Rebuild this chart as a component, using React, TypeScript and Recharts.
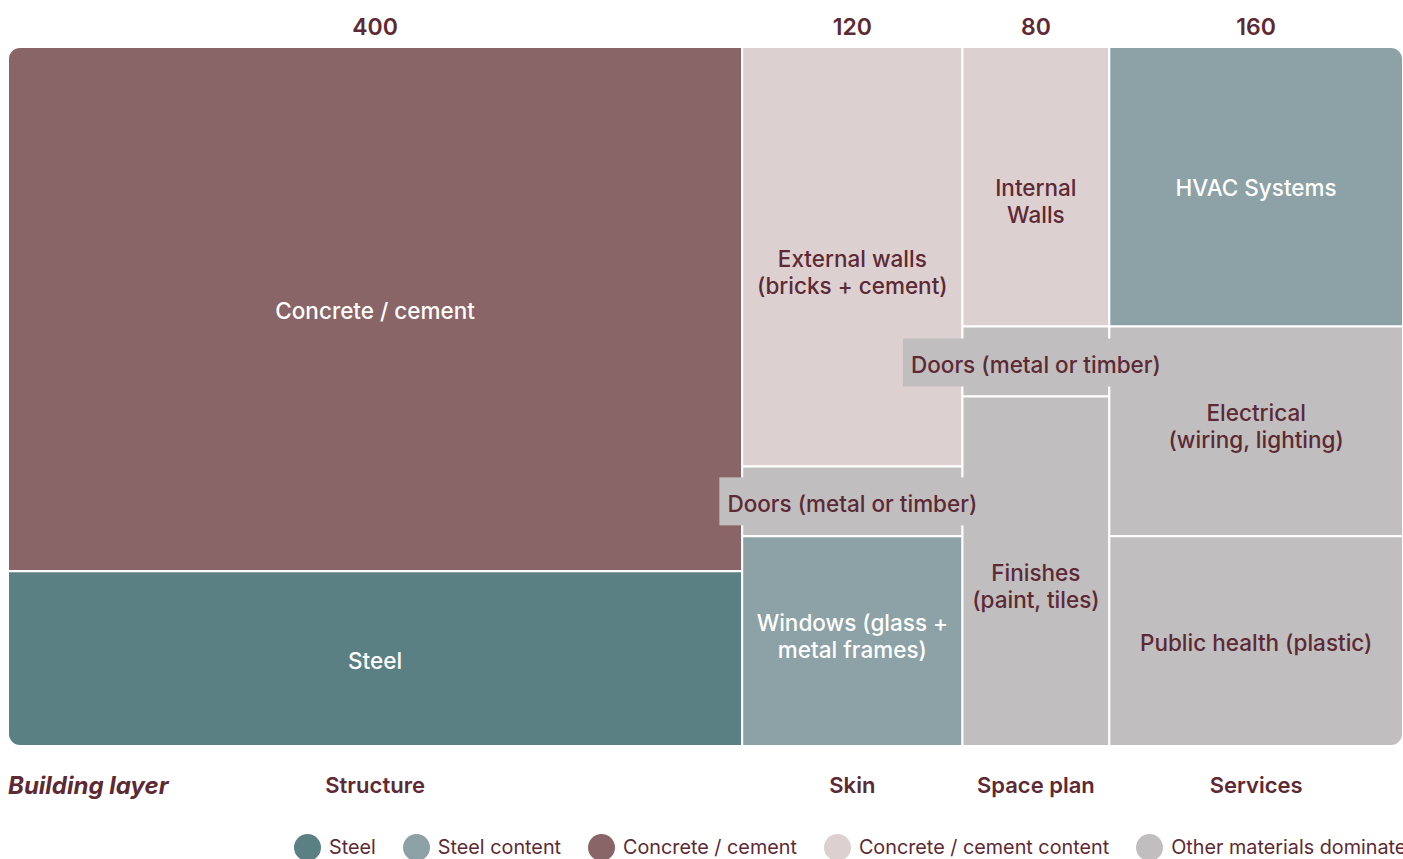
import { ComposedChart, XAxis, YAxis, ReferenceArea, Rectangle, Legend } from "recharts";

// building layers (columns) and their totals
const layers = ["Structure", "Skin", "Space plan", "Services"];
const layerTotals = [400, 120, 80, 160];

// components inside each layer, top to bottom, share in % of the column
const componentNames = [
  ["Concrete / cement", "Steel"],
  ["External walls\n(bricks + cement)", "Doors (metal or timber)", "Windows (glass +\nmetal frames)"],
  ["Internal\nWalls", "Doors (metal or timber)", "Finishes\n(paint, tiles)"],
  ["HVAC Systems", "Electrical\n(wiring, lighting)", "Public health (plastic)"],
];
const componentShares = [
  [75, 25],
  [60, 10, 30],
  [40, 10, 50],
  [40, 30, 30],
];
// index into materials
const componentMaterial = [
  [2, 0],
  [3, 4, 1],
  [3, 4, 4],
  [1, 4, 4],
];
const materials = [
  "Steel",
  "Steel content",
  "Concrete / cement",
  "Concrete / cement content",
  "Other materials dominate",
];

/* styles */
const MAROON = "#5d2934";
const FONT = "Inter, 'Noto Sans', sans-serif";
const materialColors = ["#5b8084", "#8ca2a6", "#8a6567", "#ddd0d1", "#c0bebf"];
const materialText = ["#ffffff", "#ffffff", "#ffffff", MAROON, MAROON];
// first-line offset from cell centre (px)
const labelShift = [
  [1.5, 1.5],
  [1.5, 2, -18.5],
  [1, 3, 1.5],
  [1, -19, 1.5],
];
const LINE_H = 27;
const RADIUS = 12;

// chart runs to the right edge of the window, legend overflows past it
if (typeof document !== "undefined") {
  document.body.style.overflow = "hidden";
  document.body.style.margin = "8px 0 0 8px";
}

const total = layerTotals.reduce((a, b) => a + b, 0);

interface Cell {
  key: string;
  x1: number;
  x2: number;
  y1: number;
  y2: number;
  name: string;
  share: number;
  material: number;
  shift: number;
  radius: [number, number, number, number];
}

const cells: Cell[] = [];
const mids: number[] = [];
let xAcc = 0;
layers.forEach((layer, li) => {
  const x1 = xAcc;
  const x2 = xAcc + layerTotals[li];
  mids.push((x1 + x2) / 2);
  let yTop = 100;
  const n = componentShares[li].length;
  componentShares[li].forEach((share, ci) => {
    const first = li === 0;
    const last = li === layers.length - 1;
    const top = ci === 0;
    const bottom = ci === n - 1;
    cells.push({
      key: `${layer}-${ci}`,
      x1,
      x2,
      y1: yTop - share,
      y2: yTop,
      name: componentNames[li][ci],
      share,
      material: componentMaterial[li][ci],
      shift: labelShift[li][ci],
      radius: [
        first && top ? RADIUS : 0,
        last && top ? RADIUS : 0,
        last && bottom ? RADIUS : 0,
        first && bottom ? RADIUS : 0,
      ],
    });
    yTop -= share;
  });
  xAcc = x2;
});

const chartData = layers.map((name, i) => ({ name, mid: mids[i], total: layerTotals[i] }));

const TopTick = (props: any) => {
  const { x, y, index } = props;
  return (
    <text x={x} y={y - 20} textAnchor="middle" dominantBaseline="central" fill={MAROON}
      fontFamily={FONT} fontSize={23} fontWeight={600}>
      {layerTotals[index]}
    </text>
  );
};

const BottomTick = (props: any) => {
  const { x, y, index } = props;
  return (
    <text x={x} y={y + 39} textAnchor="middle" dominantBaseline="central" fill={MAROON}
      fontFamily={FONT} fontSize={22} fontWeight={600}>
      {layers[index]}
    </text>
  );
};

const renderLegend = () => (
  <div style={{ display: "flex", paddingLeft: 286, whiteSpace: "nowrap", height: 24, alignItems: "center",
    fontFamily: FONT, fontSize: 19.8, color: MAROON }}>
    {materials.map((m, i) => (
      <div key={m} style={{ display: "flex", alignItems: "center", marginRight: 27 }}>
        <span style={{ width: 27, height: 27, borderRadius: "50%", background: materialColors[i],
          display: "inline-block", marginRight: 8, flexShrink: 0 }} />
        <span>{m}</span>
      </div>
    ))}
  </div>
);

export default function App() {
  return (
    <div style={{ width: 1395, height: 851 }}>
      <ComposedChart width={1395} height={851} data={chartData} margin={{ top: 0, right: 0, bottom: 0, left: 0 }}
        style={{ overflow: "visible" }}>
        <XAxis xAxisId="top" orientation="top" type="number" dataKey="mid" domain={[0, total]}
          ticks={mids} height={39} axisLine={false} tickLine={false} tickSize={0} tickMargin={0}
          tick={<TopTick />} interval={0} allowDataOverflow />
        <XAxis type="number" dataKey="mid" domain={[0, total]} ticks={mids} height={89}
          axisLine={false} tickLine={false} tickSize={0} tickMargin={0} tick={<BottomTick />}
          interval={0} allowDataOverflow
          label={{
            content: (p: any) => (
              <text x={p.viewBox.x} y={p.viewBox.y + 39} dominantBaseline="central" fill={MAROON}
                fontFamily={FONT} fontSize={24} fontWeight={700} fontStyle="italic">
                Building layer
              </text>
            ),
          }} />
        <YAxis type="number" domain={[0, 100]} hide allowDataOverflow />
        <Legend verticalAlign="bottom" height={24} content={renderLegend} />

        {cells.map((c) => (
          <ReferenceArea key={c.key} x1={c.x1} x2={c.x2} y1={c.y1} y2={c.y2} ifOverflow="visible"
            shape={(p: any) => (
              <Rectangle x={p.x} y={p.y} width={p.width} height={p.height} radius={c.radius}
                fill={materialColors[c.material]} stroke="#ffffff" strokeWidth={2} />
            )} />
        ))}

        {cells.map((c) => (
          <ReferenceArea key={`lbl-${c.key}`} x1={c.x1} x2={c.x2} y1={c.y1} y2={c.y2} ifOverflow="visible"
            shape={(p: any) => {
              const cx = p.x + p.width / 2;
              const y0 = p.y + p.height / 2 + c.shift;
              const lines = c.name.split("\n");
              const boxed = c.share <= 10;
              return (
                <g>
                  {boxed && (
                    <rect x={cx - 133} y={y0 - 26} width={266} height={48} fill={materialColors[c.material]} />
                  )}
                  {lines.map((line, i) => (
                    <text key={i} x={cx} y={y0 + i * LINE_H} textAnchor="middle" dominantBaseline="central"
                      fill={materialText[c.material]} fontFamily={FONT} fontSize={22.5} fontWeight={500}>
                      {line}
                    </text>
                  ))}
                </g>
              );
            }} />
        ))}
      </ComposedChart>
    </div>
  );
}
